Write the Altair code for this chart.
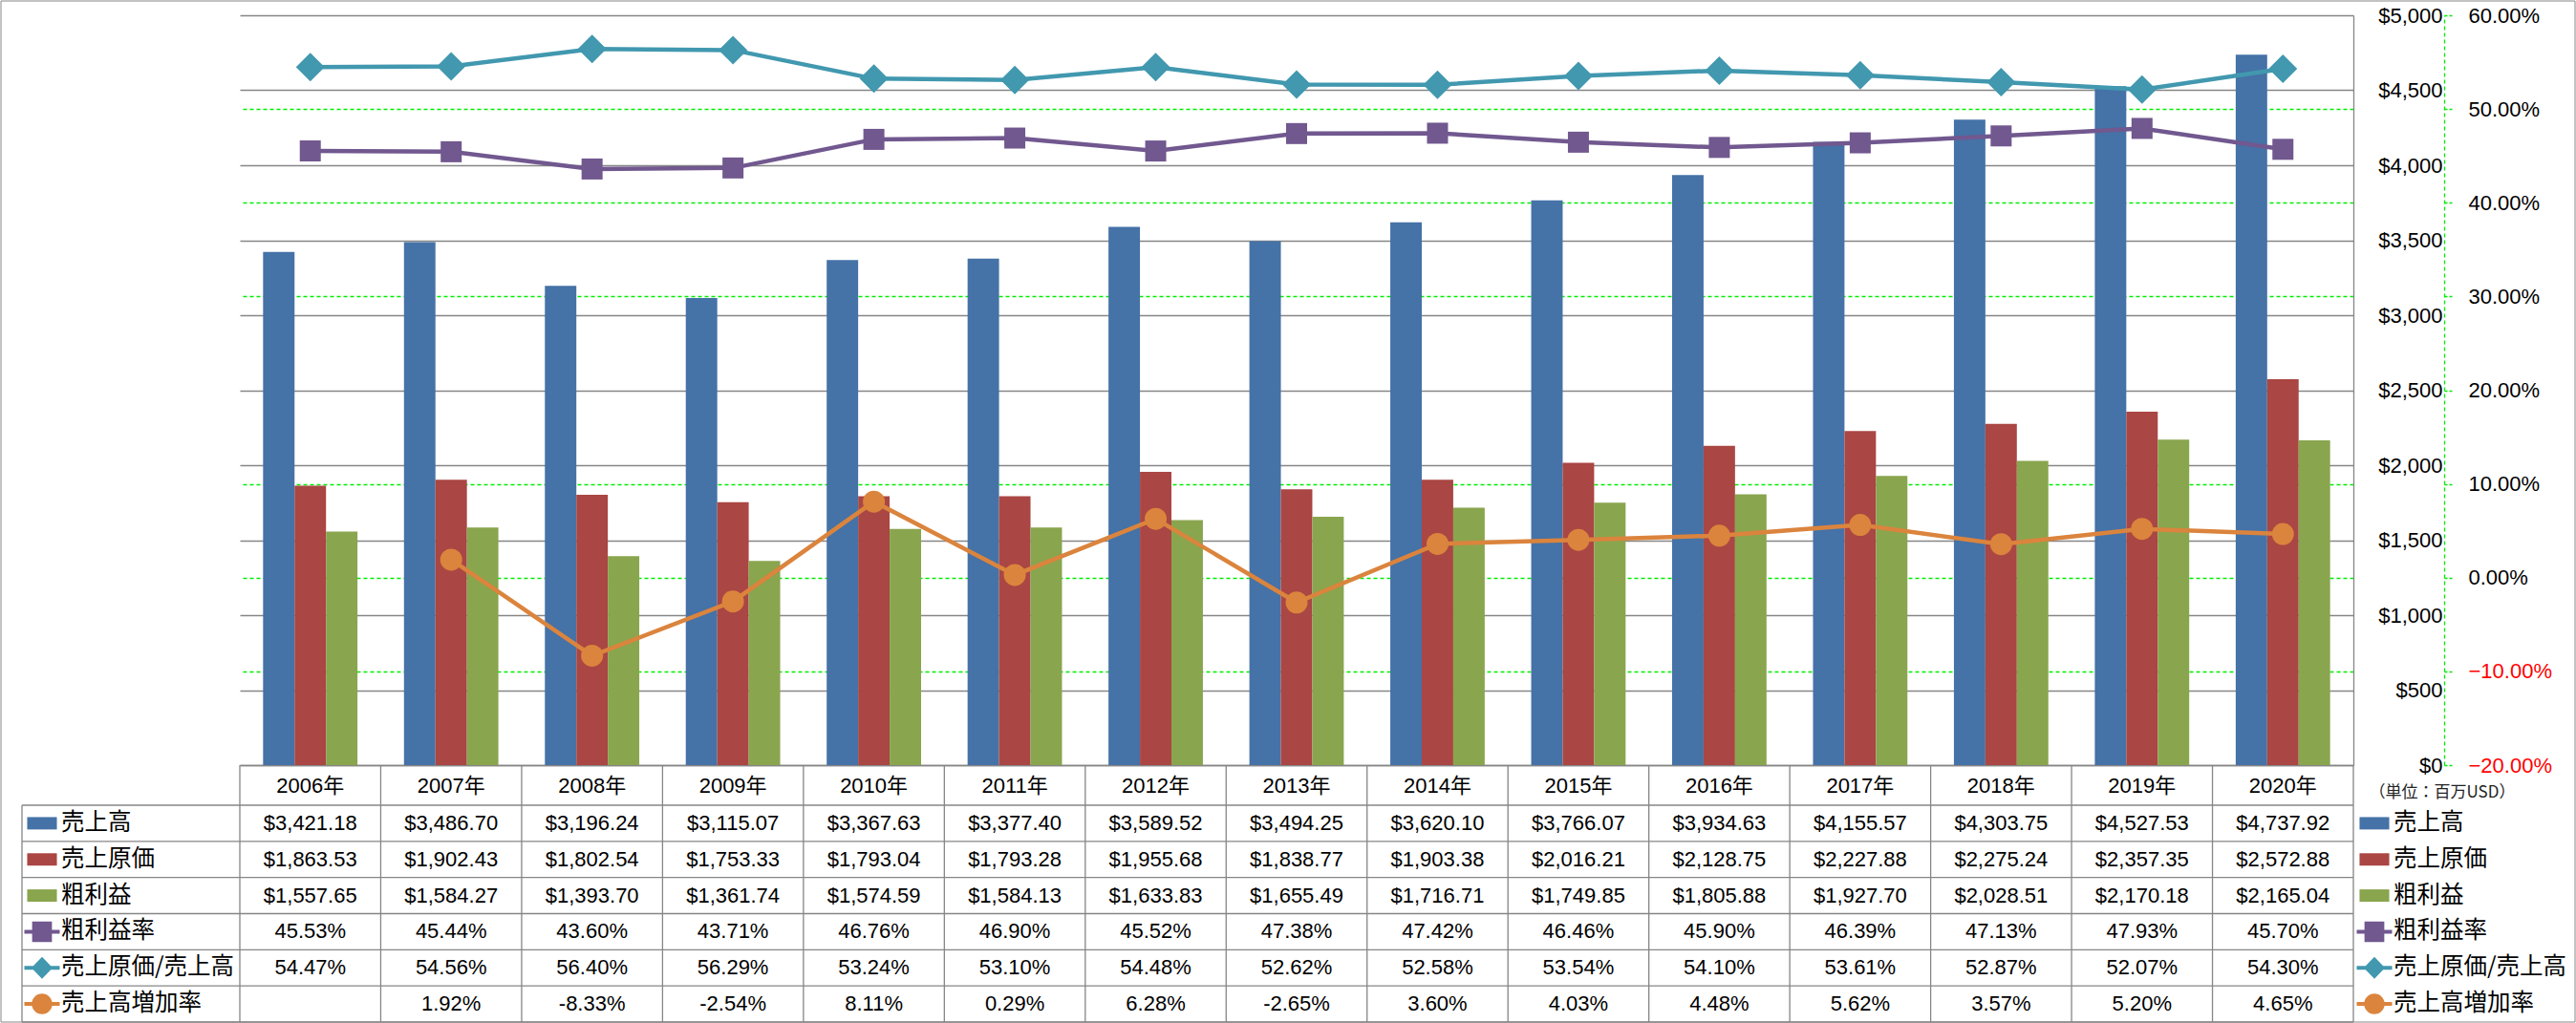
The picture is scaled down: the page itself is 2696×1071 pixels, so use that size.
import altair as alt
import pandas as pd

# ---------------- data ----------------
years = ["2006", "2007", "2008", "2009", "2010", "2011", "2012", "2013",
         "2014", "2015", "2016", "2017", "2018", "2019", "2020"]
sales = [3421.18, 3486.70, 3196.24, 3115.07, 3367.63, 3377.40, 3589.52, 3494.25,
         3620.10, 3766.07, 3934.63, 4155.57, 4303.75, 4527.53, 4737.92]
cogs = [1863.53, 1902.43, 1802.54, 1753.33, 1793.04, 1793.28, 1955.68, 1838.77,
        1903.38, 2016.21, 2128.75, 2227.88, 2275.24, 2357.35, 2572.88]
gross = [1557.65, 1584.27, 1393.70, 1361.74, 1574.59, 1584.13, 1633.83, 1655.49,
         1716.71, 1749.85, 1805.88, 1927.70, 2028.51, 2170.18, 2165.04]
gross_margin = [45.53, 45.44, 43.60, 43.71, 46.76, 46.90, 45.52, 47.38,
                47.42, 46.46, 45.90, 46.39, 47.13, 47.93, 45.70]
cost_ratio = [54.47, 54.56, 56.40, 56.29, 53.24, 53.10, 54.48, 52.62,
              52.58, 53.54, 54.10, 53.61, 52.87, 52.07, 54.30]
growth = [None, 1.92, -8.33, -2.54, 8.11, 0.29, 6.28, -2.65,
          3.60, 4.03, 4.48, 5.62, 3.57, 5.20, 4.65]

series_names = ["売上高", "売上原価", "粗利益", "粗利益率", "売上原価/売上高", "売上高増加率"]
series_colors = ["#4572A7", "#AA4643", "#89A54E", "#71588F", "#4198AF", "#DB843D"]
bar_series = series_names[:3]
line_series = series_names[3:]
line_shapes = ["square", "diamond", "circle"]
line_marker_sizes = [484, 900, 529]

dollar_ticks = [0, 500, 1000, 1500, 2000, 2500, 3000, 3500, 4000, 4500, 5000]
pct_ticks = [-20, -10, 0, 10, 20, 30, 40, 50, 60]
unit_note = "（単位：百万USD）"
year_suffix = "年"

# ---------------- styling ----------------
W, H = 2212, 785          # plot area
TH = 227                  # data-table body height (6 rows)
HDR = 42                  # header row height
LABW = 228                # width of the row-label column
GRAY = "#868686"
GREEN = "#00EE00"
NUM_FONT = "Liberation Sans, Noto Sans CJK JP"
CJK_FONT = "Noto Sans CJK JP"

# ---------------- tables ----------------
bar_rows = []
for name, vals in zip(bar_series, [sales, cogs, gross]):
    for y, v in zip(years, vals):
        bar_rows.append({"year": y, "series": name, "value": v})
bar_df = pd.DataFrame(bar_rows)

line_rows = []
for name, vals in zip(line_series, [gross_margin, cost_ratio, growth]):
    for y, v in zip(years, vals):
        if v is not None:
            line_rows.append({"year": y, "series": name, "value": v})
line_df = pd.DataFrame(line_rows)

cell_rows = []
for name, vals in zip(series_names, [sales, cogs, gross, gross_margin, cost_ratio, growth]):
    for y, v in zip(years, vals):
        if v is None:
            continue
        txt = f"${v:,.2f}" if name in bar_series else f"{v:.2f}%"
        cell_rows.append({"year": y, "row": name, "text": txt})
cell_df = pd.DataFrame(cell_rows)

one_df = pd.DataFrame({"k": [0]})
rows_df = pd.DataFrame({"row": series_names})
years_df = pd.DataFrame({"year": years})

color_scale = alt.Scale(domain=series_names, range=series_colors)

# ---------------- top plot ----------------
x_axis_top = alt.Axis(title=None, labels=False, ticks=False, grid=False, domain=True,
                      domainColor=GRAY, domainWidth=1.3)
x_top = alt.X("year:N", sort=years,
              scale=alt.Scale(paddingInner=0.33, paddingOuter=0.165),
              axis=x_axis_top)

dollar_axis = alt.Axis(
    orient="right", values=dollar_ticks, format="$,.0f",
    grid=True, gridColor=GRAY, gridWidth=1.3,
    domain=True, domainColor=GRAY, domainWidth=1.3,
    ticks=False, tickSize=0, labelPadding=93, labelAlign="right", labelBaseline="middle",
    labelFont=NUM_FONT, labelFontSize=22, labelColor="#000000",
    title=unit_note, titleAngle=0, titleX=16, titleY=813, titleAlign="left",
    titleBaseline="middle", titleFont=CJK_FONT, titleFontSize=17,
    titleFontWeight="normal", titleColor="#222222",
)

pct_axis = alt.Axis(
    orient="right", offset=95, values=pct_ticks,
    labelExpr="format(datum.value, '.2f') + '%'",
    grid=True, gridColor=GREEN, gridDash=[4, 3], gridWidth=1.3,
    gridOpacity=alt.condition("datum.value >= 60 || datum.value <= -20 || datum.value == 20",
                              alt.value(0), alt.value(1)),
    domain=True, domainColor=GREEN, domainDash=[4, 3], domainWidth=1.3,
    ticks=True, tickColor=GREEN, tickSize=8, tickWidth=1.3, tickDash=[3, 2],
    labelPadding=17, labelBaseline="middle", labelAlign="left",
    labelFont=NUM_FONT, labelFontSize=22,
    labelColor=alt.condition("datum.value < 0", alt.value("#FF0000"), alt.value("#000000")),
    title=None,
)

frame = alt.Chart(one_df).mark_rect(fillOpacity=0, stroke=GRAY, strokeWidth=1).encode(
    x=alt.value(-250), x2=alt.value(2444), y=alt.value(-15), y2=alt.value(1054)
)

bars = alt.Chart(bar_df).mark_bar().encode(
    x=x_top,
    xOffset=alt.XOffset("series:N", sort=bar_series,
                        scale=alt.Scale(domain=bar_series, paddingInner=0, paddingOuter=0)),
    y=alt.Y("value:Q", scale=alt.Scale(domain=[0, 5000], nice=False), axis=dollar_axis),
    color=alt.Color("series:N", scale=color_scale, legend=None),
)

pct_y = alt.Y("value:Q", scale=alt.Scale(domain=[-20, 60], nice=False, zero=False), axis=pct_axis)

line_layers = []
for name, shp, sz in zip(line_series, line_shapes, line_marker_sizes):
    col = series_colors[series_names.index(name)]
    base = alt.Chart(line_df).transform_filter(alt.datum.series == name)
    line_layers.append(base.mark_line(strokeWidth=4.5, color=col).encode(x=x_top, y=pct_y))
    line_layers.append(base.mark_point(shape=shp, size=sz, filled=True, opacity=1,
                                       color=col, strokeWidth=0).encode(x=x_top, y=pct_y))
lines = alt.layer(*line_layers)

top = alt.layer(frame, bars, lines).resolve_scale(y="independent").properties(width=W, height=H)

# ---------------- data table ----------------
x_axis_tab = alt.Axis(orient="top", title=None, domain=False, ticks=False, tickSize=0,
                      grid=False, labelPadding=21, labelBaseline="middle", labelAngle=0,
                      labelExpr="datum.label + '" + year_suffix + "'",
                      labelFont=NUM_FONT, labelFontSize=22, labelColor="#000000")
tab_xscale = alt.Scale(domain=years, paddingInner=0, paddingOuter=0)
row_scale = alt.Scale(domain=series_names, paddingInner=0, paddingOuter=0)

cells = alt.Chart(cell_df).mark_text(font=NUM_FONT, fontSize=22, color="#000000",
                                     baseline="middle", align="center").encode(
    x=alt.X("year:N", scale=tab_xscale, axis=x_axis_tab),
    y=alt.Y("row:N", scale=row_scale, axis=None),
    text="text:N",
)

rule_style = dict(color=GRAY, strokeWidth=1.3)
hrules = alt.Chart(rows_df).mark_rule(**rule_style).encode(
    y=alt.Y("row:N", scale=row_scale, axis=None, bandPosition=0),
    x=alt.value(-LABW), x2=alt.value(W),
)
hbottom = alt.Chart(pd.DataFrame({"row": [series_names[-1]]})).mark_rule(**rule_style).encode(
    y=alt.Y("row:N", scale=row_scale, axis=None, bandPosition=1),
    x=alt.value(-LABW), x2=alt.value(W),
)
vrules = alt.Chart(years_df).mark_rule(**rule_style).encode(
    x=alt.X("year:N", scale=tab_xscale, axis=x_axis_tab, bandPosition=0),
    y=alt.value(-HDR), y2=alt.value(TH),
)
vright = alt.Chart(pd.DataFrame({"year": [years[-1]]})).mark_rule(**rule_style).encode(
    x=alt.X("year:N", scale=tab_xscale, axis=x_axis_tab, bandPosition=1),
    y=alt.value(-HDR), y2=alt.value(TH),
)
vleft = alt.Chart(one_df).mark_rule(**rule_style).encode(
    x=alt.value(-LABW), y=alt.value(0), y2=alt.value(TH)
)

# legend-key symbols (custom paths: unit = half of symbol width)
rect_path = "M-0.84,-0.35H0.84V0.35H-0.84Z"
bar_line = "M-1,-0.11H1V0.11H-1Z"
sym_paths = [
    rect_path, rect_path, rect_path,
    bar_line + " M-0.56,-0.58H0.56V0.58H-0.56Z",
    bar_line + " M0,-0.62L0.6,0L0,0.62L-0.6,0Z",
    bar_line + " M-0.58,0A0.58,0.58 0 1,1 0.58,0A0.58,0.58 0 1,1 -0.58,0Z",
]
shape_scale = alt.Scale(domain=series_names, range=sym_paths)


def key_layer(xpos):
    return alt.Chart(rows_df).mark_point(filled=True, opacity=1, size=1369, strokeWidth=0).encode(
        x=alt.value(xpos),
        y=alt.Y("row:N", scale=row_scale, axis=None),
        color=alt.Color("row:N", scale=color_scale, legend=None),
        shape=alt.Shape("row:N", scale=shape_scale, legend=None),
    )


def label_layer(xpos):
    return alt.Chart(rows_df).mark_text(font=CJK_FONT, fontSize=24.5, color="#000000",
                                        align="left", baseline="middle").encode(
        x=alt.value(xpos),
        y=alt.Y("row:N", scale=row_scale, axis=None),
        text="row:N",
    )


table = alt.layer(
    hrules, hbottom, vrules, vright, vleft, cells,
    key_layer(-207), label_layer(-187),
    key_layer(W + 22), label_layer(W + 42),
).properties(width=W, height=TH)

chart = alt.vconcat(top, table, spacing=HDR, bounds="flush").resolve_scale(
    x="independent", y="independent", color="independent", shape="independent"
).properties(padding=0).configure_view(strokeWidth=0)

chart.save("out.html", embed_options={"renderer": "svg", "actions": False})
